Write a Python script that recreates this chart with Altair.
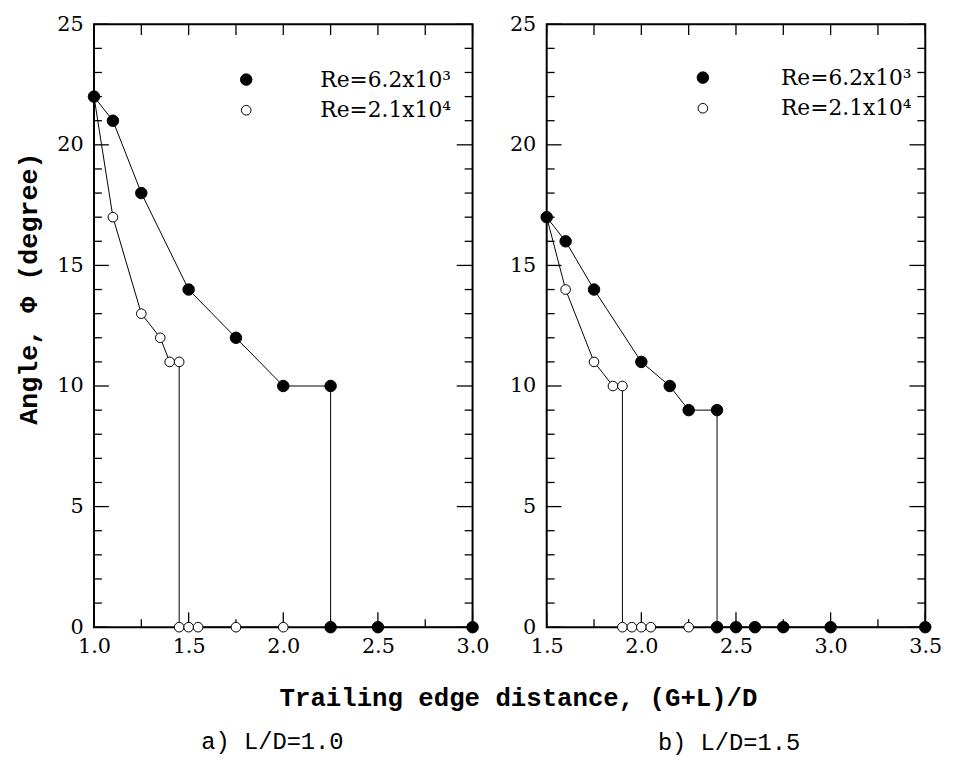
import altair as alt
import pandas as pd

# ---------------- data ----------------
SERIES_HI = "Re=6.2x10³"
SERIES_LO = "Re=2.1x10⁴"

# a) L/D = 1.0
a_hi_x = [1.0, 1.1, 1.25, 1.5, 1.75, 2.0, 2.25, 2.25, 2.5, 3.0]
a_hi_y = [22, 21, 18, 14, 12, 10, 10, 0, 0, 0]
a_lo_x = [1.0, 1.1, 1.25, 1.35, 1.4, 1.45, 1.45, 1.5, 1.55, 1.75, 2.0]
a_lo_y = [22, 17, 13, 12, 11, 11, 0, 0, 0, 0, 0]

# b) L/D = 1.5
b_hi_x = [1.5, 1.6, 1.75, 2.0, 2.15, 2.25, 2.4, 2.4, 2.5, 2.6, 2.75, 3.0, 3.5]
b_hi_y = [17, 16, 14, 11, 10, 9, 9, 0, 0, 0, 0, 0, 0]
b_lo_x = [1.5, 1.6, 1.75, 1.85, 1.9, 1.9, 1.95, 2.0, 2.05, 2.25]
b_lo_y = [17, 14, 11, 10, 10, 0, 0, 0, 0, 0]

a_domain = [1.0, 3.0]
b_domain = [1.5, 3.5]
a_x_major = [1.0, 1.5, 2.0, 2.5, 3.0]
a_x_minor = [1.25, 1.75, 2.25, 2.75]
b_x_major = [1.5, 2.0, 2.5, 3.0, 3.5]
b_x_minor = [1.75, 2.25, 2.75, 3.25]
y_major = [0, 5, 10, 15, 20, 25]
y_minor = [1, 2, 3, 4, 6, 7, 8, 9, 11, 12, 13, 14, 16, 17, 18, 19, 21, 22, 23, 24]

captions = ["a) L/D=1.0", "b) L/D=1.5"]
x_title = "Trailing edge distance, (G+L)/D"
y_title = "Angle, Φ (degree)"

W, H = 383, 610
TICK_FONT = "DejaVu Serif"
TITLE_FONT = "Liberation Mono"


def make_df(hx, hy, lx, ly):
    rows = []
    # open series first so that filled markers are drawn on top
    for i, (x, y) in enumerate(zip(lx, ly)):
        rows.append({"x": x, "y": y, "series": SERIES_LO, "order": i})
    for i, (x, y) in enumerate(zip(hx, hy)):
        rows.append({"x": x, "y": y, "series": SERIES_HI, "order": i})
    return pd.DataFrame(rows)


def panel(hx, hy, lx, ly, domain, x_major, x_minor, caption, left,
          cap_offset, cap_dx, leg_x, leg_y, lab_off):
    df = make_df(hx, hy, lx, ly)
    xsc = alt.Scale(domain=domain, nice=False, zero=False)
    ysc = alt.Scale(domain=[0, 25], nice=False, zero=False)

    common = dict(ticks=False, domain=False, grid=False, labelFont=TICK_FONT,
                  labelFontSize=21, labelColor="black", labelFlush=False,
                  labelOverlap=False)
    if left:
        xaxis = alt.Axis(values=x_major, format=".1f", title=x_title, labelPadding=9,
                         titleX=429, titleY=79, titleBaseline="alphabetic",
                         titleAlign="center", titleFont=TITLE_FONT,
                         titleFontSize=26, titleFontWeight="bold", titleColor="black",
                         **common)
        yaxis = alt.Axis(values=y_major, format="d", title=y_title, labelPadding=11,
                         titleX=-66, titleY=267, titleAngle=270,
                         titleBaseline="middle", titleAlign="center",
                         titleFont=TITLE_FONT, titleFontSize=27,
                         titleFontWeight="bold", titleColor="black", **common)
    else:
        xaxis = alt.Axis(values=x_major, format=".1f", title=None, labelPadding=9, **common)
        yaxis = alt.Axis(values=y_major, format="d", title=None, labelPadding=11, **common)

    legend = alt.Legend(orient="none", legendX=leg_x, legendY=leg_y,
                        title=None, labelFont=TICK_FONT,
                        labelFontSize=22, labelColor="black",
                        labelOffset=lab_off, rowPadding=9, padding=0,
                        symbolStrokeColor="black", symbolStrokeWidth=1,
                        symbolType="circle")

    sc_dom = [SERIES_HI, SERIES_LO]
    base = alt.Chart(df)
    lines = base.mark_line(color="black", strokeWidth=1).encode(
        x=alt.X("x:Q", scale=xsc, axis=xaxis),
        y=alt.Y("y:Q", scale=ysc, axis=yaxis),
        detail="series:N",
        order="order:Q",
    )
    pts = base.mark_point(shape="circle", strokeWidth=1,
                          opacity=1, fillOpacity=1, strokeOpacity=1).encode(
        x=alt.X("x:Q", scale=xsc, axis=xaxis),
        y=alt.Y("y:Q", scale=ysc, axis=yaxis),
        fill=alt.Fill("series:N",
                      scale=alt.Scale(domain=sc_dom, range=["black", "white"]),
                      legend=legend),
        stroke=alt.Stroke("series:N",
                          scale=alt.Scale(domain=sc_dom, range=["black", "black"]),
                          legend=legend),
        size=alt.Size("series:N",
                      scale=alt.Scale(domain=sc_dom, range=[135, 95]),
                      legend=legend),
    )

    def rules_x(vals, y1, y2):
        return alt.Chart(pd.DataFrame({"x": vals})).mark_rule(
            color="black", strokeWidth=1.3).encode(
            x=alt.X("x:Q", scale=xsc, axis=xaxis),
            y=alt.value(y1), y2=alt.value(y2))

    def rules_y(vals, x1, x2):
        return alt.Chart(pd.DataFrame({"y": vals})).mark_rule(
            color="black", strokeWidth=1.3).encode(
            y=alt.Y("y:Q", scale=ysc, axis=yaxis),
            x=alt.value(x1), x2=alt.value(x2))

    ticks = [
        rules_x(x_major, H, H - 15),
        rules_x(x_minor, H, H - 8),
        rules_x(x_major + x_minor, 0, 11),
        rules_y(y_major, 0, 15),
        rules_y(y_minor, 0, 8),
        rules_y(y_major, W, W - 16),
        rules_y(y_minor, W, W - 8),
    ]

    return alt.layer(lines, *ticks, pts).properties(
        width=W, height=H,
        title=alt.TitleParams(caption, orient="bottom", anchor="middle",
                              font=TITLE_FONT, fontSize=24, fontWeight="normal",
                              color="black", offset=cap_offset, dx=cap_dx),
    )


pa = panel(a_hi_x, a_hi_y, a_lo_x, a_lo_y, a_domain, a_x_major, a_x_minor,
           captions[0], True, 20, -11, 143, 45, 64)
pb = panel(b_hi_x, b_hi_y, b_lo_x, b_lo_y, b_domain, b_x_major, b_x_minor,
           captions[1], False, 75, -7, 147, 43, 68)

chart = alt.hconcat(pa, pb, spacing=75, bounds="flush").resolve_scale(
    x="independent", y="independent", fill="independent",
    stroke="independent", size="independent"
).resolve_legend(fill="independent", stroke="independent", size="independent").properties(
    padding={"left": 6, "top": 0, "right": 5, "bottom": 5},
    background="white",
).configure_view(
    stroke="black", strokeWidth=2
)

chart.save("out.html", embed_options={"renderer": "svg", "actions": False})
